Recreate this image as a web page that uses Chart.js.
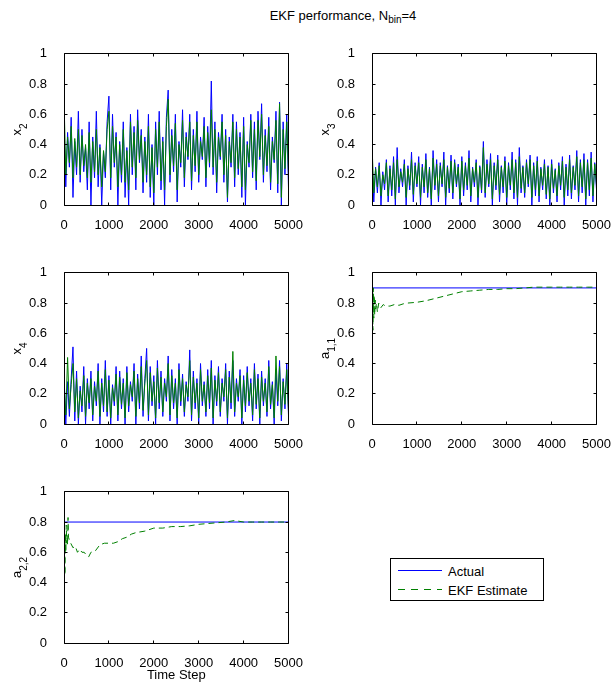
<!DOCTYPE html>
<html>
<head>
<meta charset="utf-8">
<script src="https://cdn.jsdelivr.net/npm/chart.js@4.4.0/dist/chart.umd.min.js"></script>
<style>
  body { margin: 0; background: #fff; font-family: "Liberation Sans", Arial, sans-serif; }
  #fig { position: relative; width: 616px; height: 685px; }
  canvas { position: absolute; }
  #title { position: absolute; left: 243px; width: 200px; top: 8px; text-align: center; font-size: 13px; line-height: 15px; color: #000; }
  #title sub { font-size: 10px; vertical-align: -3px; line-height: 0; }
  #legend { position: absolute; left: 390px; top: 558px; width: 152px; height: 41px; border: 1px solid #000; background: #fff; font-size: 13px; }
  .item { position: absolute; left: 57px; line-height: 15px; white-space: nowrap; }
  .swatch { position: absolute; left: 7px; width: 44px; height: 1px; }
</style>
</head>
<body>
<div id="fig">
  <div id="title">EKF performance, N<sub>bin</sub>=4</div>
  <canvas id="p1" width="308" height="200" style="left:0;top:37px"></canvas>
  <canvas id="p2" width="308" height="200" style="left:308px;top:37px"></canvas>
  <canvas id="p3" width="308" height="200" style="left:0;top:256px"></canvas>
  <canvas id="p4" width="308" height="200" style="left:308px;top:256px"></canvas>
  <canvas id="p5" width="308" height="210" style="left:0;top:475px"></canvas>
  <div id="legend">
    <div class="swatch" style="top:11px;background:#0000ff"></div>
    <div class="item" style="top:5px">Actual</div>
    <div class="swatch" style="top:30px;background:repeating-linear-gradient(to right,#008000 0 7px,transparent 7px 13px)"></div>
    <div class="item" style="top:24px">EKF Estimate</div>
  </div>
</div>
<script>
// sample times for the noisy state traces (every 40 steps)
const noiseSteps = Array.from({ length: 126 }, (_, i) => i * 40);

const x2Actual = [
  0.55, 0.12, 0.48, 0.25, 0.58, 0.05, 0.42, 0.2, 0.62, 0.15,
  0.5, 0.22, 0.38, 0.1, 0.55, 0.0, 0.45, 0.18, 0.62, 0.12,
  0.4, 0.0, 0.35, 0.18, 0.55, 0.72, 0.1, 0.6, 0.25, 0.48,
  0.0, 0.42, 0.15, 0.55, 0.05, 0.38, 0.0, 0.6, 0.2, 0.52,
  0.1, 0.63, 0.28, 0.5, 0.08, 0.45, 0.15, 0.6, 0.05, 0.4,
  0.0, 0.55, 0.2, 0.62, 0.1, 0.45, 0.0, 0.58, 0.76, 0.15,
  0.5, 0.22, 0.6, 0.02, 0.42, 0.25, 0.63, 0.12, 0.48, 0.3,
  0.6, 0.1, 0.5, 0.22, 0.62, 0.15, 0.45, 0.3, 0.58, 0.12,
  0.52, 0.25, 0.82, 0.2, 0.55, 0.08, 0.48, 0.3, 0.6, 0.15,
  0.5, 0.02, 0.45, 0.25, 0.6, 0.12, 0.55, 0.2, 0.48, 0.05,
  0.58, 0.0, 0.42, 0.25, 0.6, 0.18, 0.55, 0.1, 0.62, 0.3,
  0.67, 0.15, 0.5, 0.22, 0.58, 0.1, 0.45, 0.28, 0.62, 0.08,
  0.68, 0.0, 0.55, 0.2, 0.6, 0.1
];
const x2Estimate = [
  0.71, 0.2, 0.45, 0.28, 0.52, 0.18, 0.44, 0.25, 0.5, 0.2,
  0.46, 0.26, 0.4, 0.18, 0.48, 0.15, 0.42, 0.22, 0.5, 0.2,
  0.38, 0.12, 0.36, 0.22, 0.5, 0.62, 0.18, 0.52, 0.28, 0.45,
  0.12, 0.4, 0.2, 0.5, 0.15, 0.36, 0.1, 0.55, 0.25, 0.48,
  0.18, 0.56, 0.3, 0.46, 0.15, 0.42, 0.2, 0.52, 0.12, 0.38,
  0.08, 0.5, 0.25, 0.55, 0.16, 0.42, 0.1, 0.52, 0.7, 0.2,
  0.46, 0.26, 0.54, 0.1, 0.4, 0.28, 0.56, 0.18, 0.45, 0.32,
  0.55, 0.16, 0.46, 0.26, 0.55, 0.2, 0.42, 0.32, 0.52, 0.18,
  0.48, 0.28, 0.63, 0.25, 0.5, 0.15, 0.45, 0.32, 0.55, 0.2,
  0.46, 0.05, 0.42, 0.28, 0.55, 0.18, 0.5, 0.24, 0.45, 0.12,
  0.52, 0.1, 0.4, 0.28, 0.56, 0.22, 0.5, 0.16, 0.56, 0.32,
  0.6, 0.2, 0.46, 0.26, 0.52, 0.15, 0.42, 0.3, 0.56, 0.14,
  0.67, 0.05, 0.5, 0.24, 0.55, 0.2
];

const x3Actual = [
  0.3, 0.02, 0.25, 0.08, 0.28, 0.0, 0.22, 0.1, 0.3, 0.02,
  0.26, 0.06, 0.32, 0.0, 0.38, 0.08, 0.24, 0.12, 0.3, 0.0,
  0.26, 0.1, 0.35, 0.02, 0.28, 0.12, 0.32, 0.0, 0.27, 0.08,
  0.34, 0.05, 0.25, 0.0, 0.36, 0.1, 0.3, 0.02, 0.28, 0.12,
  0.35, 0.0, 0.26, 0.08, 0.33, 0.04, 0.3, 0.12, 0.27, 0.0,
  0.32, 0.06, 0.28, 0.1, 0.36, 0.02, 0.25, 0.12, 0.3, 0.0,
  0.26, 0.08, 0.42, 0.05, 0.3, 0.12, 0.34, 0.0, 0.28, 0.1,
  0.33, 0.02, 0.26, 0.08, 0.32, 0.0, 0.28, 0.1, 0.35, 0.04,
  0.3, 0.0, 0.38, 0.08, 0.26, 0.05, 0.3, 0.12, 0.33, 0.0,
  0.28, 0.06, 0.32, 0.02, 0.25, 0.1, 0.3, 0.04, 0.26, 0.0,
  0.3, 0.08, 0.24, 0.02, 0.28, 0.1, 0.32, 0.0, 0.27, 0.06,
  0.33, 0.04, 0.26, 0.1, 0.36, 0.02, 0.3, 0.08, 0.34, 0.0,
  0.3, 0.06, 0.35, 0.02, 0.28, 0.1
];
const x3Estimate = [
  0.4, 0.08, 0.24, 0.12, 0.26, 0.06, 0.2, 0.14, 0.28, 0.06,
  0.24, 0.1, 0.28, 0.04, 0.3, 0.12, 0.22, 0.15, 0.27, 0.05,
  0.24, 0.13, 0.3, 0.07, 0.26, 0.14, 0.28, 0.05, 0.25, 0.12,
  0.3, 0.08, 0.24, 0.04, 0.31, 0.13, 0.27, 0.06, 0.26, 0.14,
  0.3, 0.05, 0.25, 0.11, 0.29, 0.08, 0.28, 0.14, 0.25, 0.04,
  0.29, 0.1, 0.26, 0.13, 0.31, 0.06, 0.24, 0.15, 0.28, 0.05,
  0.25, 0.1, 0.38, 0.08, 0.27, 0.14, 0.3, 0.04, 0.26, 0.13,
  0.3, 0.07, 0.25, 0.12, 0.29, 0.05, 0.26, 0.13, 0.3, 0.08,
  0.28, 0.05, 0.32, 0.11, 0.25, 0.08, 0.28, 0.14, 0.3, 0.05,
  0.26, 0.1, 0.29, 0.06, 0.24, 0.13, 0.27, 0.07, 0.25, 0.04,
  0.27, 0.11, 0.23, 0.06, 0.26, 0.13, 0.29, 0.05, 0.25, 0.1,
  0.3, 0.08, 0.25, 0.13, 0.32, 0.06, 0.28, 0.12, 0.3, 0.04,
  0.28, 0.1, 0.31, 0.06, 0.27, 0.13
];

const x4Actual = [
  0.33, 0.0, 0.28, 0.05, 0.3, 0.51, 0.02, 0.35, 0.0, 0.25,
  0.08, 0.38, 0.0, 0.3, 0.1, 0.35, 0.02, 0.28, 0.12, 0.4,
  0.0, 0.3, 0.08, 0.42, 0.05, 0.32, 0.0, 0.26, 0.12, 0.38,
  0.02, 0.35, 0.1, 0.3, 0.0, 0.38, 0.08, 0.28, 0.15, 0.4,
  0.0, 0.33, 0.1, 0.45, 0.05, 0.3, 0.5, 0.02, 0.38, 0.12,
  0.32, 0.0, 0.42, 0.1, 0.35, 0.05, 0.3, 0.15, 0.45, 0.02,
  0.36, 0.1, 0.3, 0.0, 0.4, 0.12, 0.33, 0.05, 0.28, 0.15,
  0.49, 0.02, 0.35, 0.1, 0.3, 0.0, 0.4, 0.12, 0.28, 0.05,
  0.36, 0.1, 0.42, 0.0, 0.32, 0.12, 0.38, 0.05, 0.3, 0.15,
  0.4, 0.0, 0.35, 0.1, 0.42, 0.05, 0.3, 0.15, 0.36, 0.0,
  0.32, 0.08, 0.38, 0.12, 0.3, 0.02, 0.4, 0.1, 0.33, 0.0,
  0.35, 0.12, 0.3, 0.05, 0.42, 0.1, 0.28, 0.0, 0.36, 0.12,
  0.42, 0.02, 0.3, 0.1, 0.4, 0.05
];
const x4Estimate = [
  0.28, 0.06, 0.44, 0.1, 0.26, 0.4, 0.08, 0.3, 0.04, 0.22,
  0.12, 0.32, 0.05, 0.27, 0.14, 0.3, 0.06, 0.25, 0.15, 0.35,
  0.05, 0.27, 0.12, 0.36, 0.08, 0.29, 0.04, 0.24, 0.15, 0.33,
  0.06, 0.31, 0.13, 0.27, 0.04, 0.34, 0.12, 0.26, 0.18, 0.35,
  0.05, 0.3, 0.14, 0.38, 0.09, 0.27, 0.42, 0.06, 0.34, 0.15,
  0.28, 0.04, 0.37, 0.14, 0.31, 0.08, 0.27, 0.18, 0.4, 0.06,
  0.32, 0.14, 0.27, 0.04, 0.36, 0.15, 0.3, 0.08, 0.26, 0.18,
  0.42, 0.06, 0.31, 0.14, 0.27, 0.04, 0.36, 0.15, 0.26, 0.08,
  0.32, 0.14, 0.37, 0.04, 0.29, 0.15, 0.34, 0.08, 0.27, 0.18,
  0.36, 0.04, 0.31, 0.14, 0.48, 0.08, 0.27, 0.18, 0.32, 0.04,
  0.29, 0.12, 0.34, 0.15, 0.27, 0.06, 0.36, 0.13, 0.3, 0.04,
  0.31, 0.15, 0.27, 0.08, 0.38, 0.13, 0.26, 0.04, 0.45, 0.15,
  0.38, 0.06, 0.28, 0.13, 0.36, 0.08
];

// parameter panels: true value is constant, estimate converges
const paramSteps = [0, 5000];
const a11Actual = [0.9, 0.9];
const a22Actual = [0.8, 0.8];

const a11Steps = [
  0, 10, 20, 30, 40, 50, 60, 70, 80, 100,
  120, 150, 200, 250, 300, 400, 500, 600, 700, 800,
  1000, 1200, 1400, 1600, 1800, 2000, 2200, 2400, 2600, 2800,
  3000, 3200, 3400, 3600, 3800, 4000, 4200, 4400, 4600, 4800, 5000
];
const a11Estimate = [
  0.58, 0.97, 0.62, 0.9, 0.7, 0.85, 0.72, 0.82, 0.76, 0.8,
  0.74, 0.8, 0.77, 0.79, 0.78, 0.78, 0.79, 0.785, 0.795, 0.8,
  0.805, 0.815, 0.83, 0.845, 0.86, 0.875, 0.88, 0.885, 0.89, 0.89,
  0.895, 0.895, 0.9, 0.905, 0.905, 0.905, 0.905, 0.905, 0.905, 0.905, 0.905
];

const a22Steps = [
  0, 10, 20, 30, 40, 50, 60, 70, 80, 90,
  100, 120, 150, 200, 250, 300, 350, 400, 450, 500,
  550, 600, 700, 800, 900, 1000, 1100, 1200, 1300, 1400,
  1500, 1600, 1800, 2000, 2200, 2400, 2600, 2800, 3000, 3200,
  3400, 3600, 3800, 4000, 4200, 4400, 4600, 4800, 5000
];
const a22Estimate = [
  0.38, 0.84, 0.45, 0.72, 0.6, 0.78, 0.66, 0.7, 0.65, 0.83,
  0.7, 0.68, 0.66, 0.63, 0.64, 0.6, 0.62, 0.6, 0.6, 0.58,
  0.57, 0.6, 0.61, 0.65, 0.66, 0.66, 0.66, 0.67, 0.69, 0.7,
  0.72, 0.73, 0.74, 0.76, 0.76, 0.77, 0.77, 0.775, 0.785, 0.79,
  0.795, 0.8, 0.81, 0.8, 0.8, 0.8, 0.8, 0.8, 0.8
];

const FONT = '"Liberation Sans", Arial, sans-serif';
const BLUE = "#0000ff";
const GREEN = "#008000";

const toPoints = (xs, ys) => xs.map((x, i) => ({ x, y: ys[i] }));

// matlab style box with inward ticks on all four sides
const boxPlugin = {
  id: "box",
  afterDraw(chart) {
    const { ctx, chartArea: a, scales } = chart;
    const l = Math.floor(a.left) + 0.5, r = Math.floor(a.right) + 0.5;
    const t = Math.floor(a.top) + 0.5, b = Math.floor(a.bottom) + 0.5;
    const len = 3;
    ctx.save();
    ctx.strokeStyle = "#000";
    ctx.lineWidth = 1;
    ctx.beginPath();
    ctx.rect(l, t, r - l, b - t);
    scales.x.ticks.forEach((tk) => {
      const px = Math.floor(scales.x.getPixelForValue(tk.value)) + 0.5;
      ctx.moveTo(px, b); ctx.lineTo(px, b - len);
      ctx.moveTo(px, t); ctx.lineTo(px, t + len);
    });
    scales.y.ticks.forEach((tk) => {
      const py = Math.floor(scales.y.getPixelForValue(tk.value)) + 0.5;
      ctx.moveTo(l, py); ctx.lineTo(l + len, py);
      ctx.moveTo(r, py); ctx.lineTo(r - len, py);
    });
    ctx.stroke();
    ctx.restore();
  },
};

// rotated y label with a subscript, e.g. x_2 or a_{1,1}
const yLabelPlugin = {
  id: "yLabel",
  afterDraw(chart, args, opts) {
    const { ctx, chartArea } = chart;
    ctx.save();
    ctx.translate(17, (chartArea.top + chartArea.bottom) / 2);
    ctx.rotate(-Math.PI / 2);
    ctx.fillStyle = "#000";
    ctx.textBaseline = "alphabetic";
    ctx.font = "13px " + FONT;
    const w1 = ctx.measureText(opts.main).width;
    ctx.font = "10px " + FONT;
    const w2 = ctx.measureText(opts.sub).width;
    const x0 = -(w1 + w2) / 2;
    ctx.font = "13px " + FONT;
    ctx.fillText(opts.main, x0, 4);
    ctx.font = "10px " + FONT;
    ctx.fillText(opts.sub, x0 + w1, 10);
    ctx.restore();
  },
};

function makePanel(id, datasets, main, sub, xTitle) {
  const ctx = document.getElementById(id).getContext("2d");
  return new Chart(ctx, {
    type: "line",
    data: { datasets },
    plugins: [boxPlugin, yLabelPlugin],
    options: {
      responsive: false,
      animation: false,
      devicePixelRatio: 1,
      layout: { autoPadding: false, padding: { top: 10, right: 16, bottom: 0, left: 0 } },
      elements: { point: { radius: 0 }, line: { tension: 0, borderWidth: 1 } },
      plugins: {
        legend: { display: false },
        tooltip: { enabled: false },
        yLabel: { main, sub },
      },
      scales: {
        x: {
          type: "linear",
          min: 0,
          max: 5000,
          grid: { display: false },
          border: { display: false },
          ticks: {
            stepSize: 1000,
            padding: 5,
            color: "#000",
            font: { family: FONT, size: 13 },
            callback: (v) => String(v),
          },
          title: {
            display: !!xTitle,
            text: xTitle || "",
            color: "#000",
            font: { family: FONT, size: 13 },
            padding: { top: 0, bottom: 2 },
          },
          afterFit: (s) => { s.height = xTitle ? 42 : 32; },
        },
        y: {
          min: 0,
          max: 1,
          grid: { display: false },
          border: { display: false },
          ticks: {
            stepSize: 0.2,
            padding: 9,
            color: "#000",
            font: { family: FONT, size: 13 },
            callback: (v) => String(Math.round(v * 10) / 10),
          },
          afterFit: (s) => { s.width = 64; },
        },
      },
    },
  });
}

// estimate drawn on top of the actual trace, as in the original figure
function noisySets(actual, estimate) {
  return [
    { label: "Actual", data: toPoints(noiseSteps, actual), borderColor: BLUE, order: 2 },
    { label: "EKF Estimate", data: toPoints(noiseSteps, estimate), borderColor: GREEN, order: 1 },
  ];
}

function paramSets(actual, steps, estimate) {
  return [
    { label: "Actual", data: toPoints(paramSteps, actual), borderColor: BLUE, order: 2 },
    { label: "EKF Estimate", data: toPoints(steps, estimate), borderColor: GREEN, borderDash: [6, 4], order: 1 },
  ];
}

makePanel("p1", noisySets(x2Actual, x2Estimate), "x", "2");
makePanel("p2", noisySets(x3Actual, x3Estimate), "x", "3");
makePanel("p3", noisySets(x4Actual, x4Estimate), "x", "4");
makePanel("p4", paramSets(a11Actual, a11Steps, a11Estimate), "a", "1,1");
makePanel("p5", paramSets(a22Actual, a22Steps, a22Estimate), "a", "2,2", "Time Step");
</script>
</body>
</html>
